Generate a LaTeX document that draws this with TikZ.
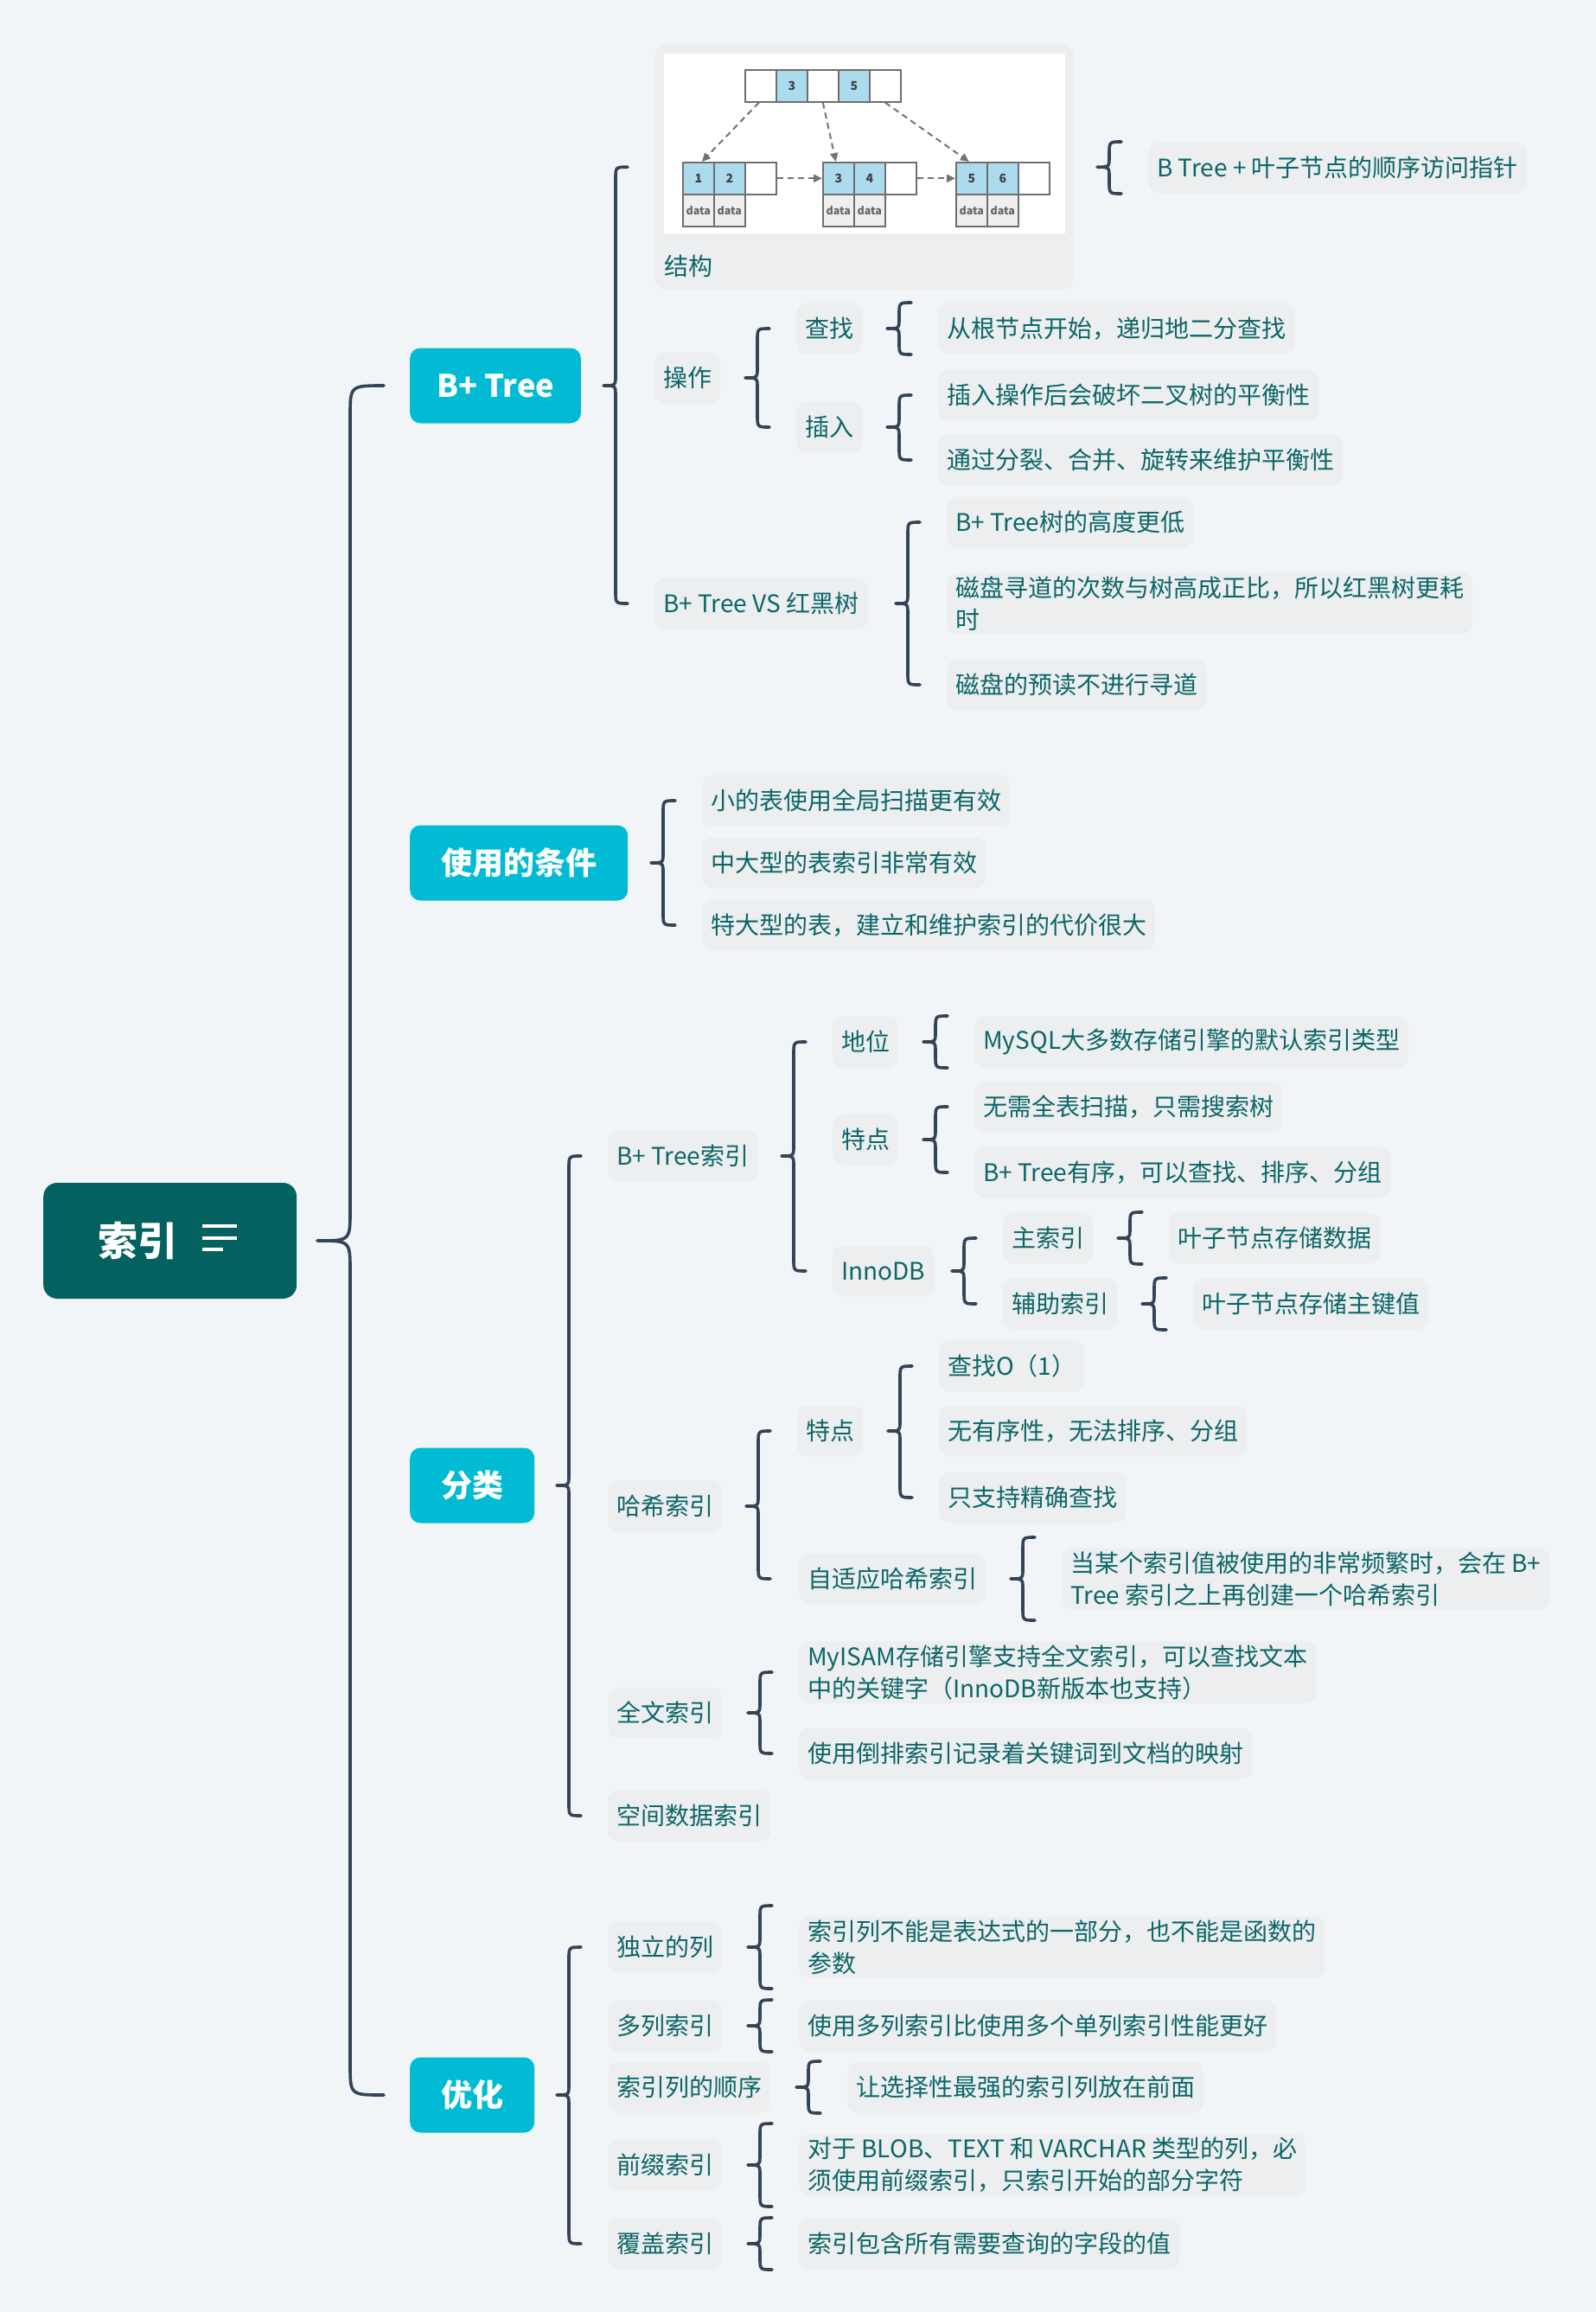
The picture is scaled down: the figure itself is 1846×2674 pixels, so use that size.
\documentclass[tikz,border=0pt]{standalone}
\usepackage{fontspec}
\setmainfont{Noto Sans CJK SC}
\usetikzlibrary{arrows.meta,calc}
\definecolor{bg}{HTML}{F2F5F8}
\definecolor{rootc}{HTML}{03625F}
\definecolor{cyanc}{HTML}{00BBD3}
\definecolor{itemfill}{HTML}{ECEEF0}
\definecolor{tealtext}{HTML}{0D6667}
\definecolor{linec}{HTML}{354358}
\definecolor{cellblue}{HTML}{ADDBEE}
\definecolor{cellgray}{HTML}{EFEFEF}
\definecolor{cellborder}{HTML}{6E6E6E}
\newcommand{\brc}[4][0]{%
  \draw[brline] let \p1=(#3.west), \p2=(#4.west), \p3=(#2.east) in
  (\x1-31pt,\y1+#1pt) .. controls (\x1-45pt,\y1+#1pt) .. (\x1-45pt,\y1+#1pt-14pt)
  -- (\x1-45pt,\y3+12pt) .. controls (\x1-45pt,\y3) .. (\x1-59pt,\y3)
  .. controls (\x1-45pt,\y3) .. (\x1-45pt,\y3-12pt)
  -- (\x1-45pt,\y2-#1pt+14pt) .. controls (\x1-45pt,\y2-#1pt) .. (\x1-31pt,\y2-#1pt);}
\tikzset{
  brline/.style={draw=linec, line width=3.6pt, line cap=round, line join=round},
  item/.style={fill=itemfill, rounded corners=12pt, text=tealtext, font=\fontsize{28}{37}\selectfont,
    minimum height=59pt, inner xsep=10pt, inner ysep=4pt, anchor=west, align=left},
  lvlone/.style={fill=cyanc, rounded corners=12pt, text=white, font=\fontsize{36}{40}\selectfont\bfseries,
    minimum height=87pt, inner xsep=36pt, anchor=west},
  rootbox/.style={fill=rootc, rounded corners=16pt, text=white, font=\fontsize{46}{50}\selectfont\bfseries,
    minimum height=134pt, text width=167pt, inner xsep=63pt, align=left, anchor=west},
  cell/.style={draw=cellborder, line width=1.6pt, minimum width=36pt, minimum height=37pt, inner sep=0pt,
    anchor=north west, fill=white, font=\fontsize{14}{14}\selectfont\bfseries, text=black!75},
  bcell/.style={cell, fill=cellblue},
  dcell/.style={cell, fill=cellgray, font=\fontsize{12.5}{12.5}\selectfont\bfseries, text=black!60},
  dasharrow/.style={draw=black!55, line width=2pt, dash pattern=on 7pt off 5pt, -{Triangle[length=10pt,width=9pt]}}
}
\begin{document}
\begin{tikzpicture}[x=1pt,y=-1pt]
\fill[bg] (0,0) rectangle (1846,2674);
\useasboundingbox (0,0) rectangle (1846,2674);

% root
\node[rootbox] (root) at (50,1435) {索引};
\draw[white, line width=4pt] (234,1418) -- (274,1418) (234,1432) -- (274,1432) (234,1445) -- (258,1445);

% level one
\node[lvlone, inner xsep=31pt] (bt) at (474,446) {B+ Tree};
\node[lvlone] (cond) at (474,998) {使用的条件};
\node[lvlone] (cls) at (474,1718) {分类};
\node[lvlone] (opt) at (474,2423) {优化};

% root brace
\draw[brline] let \p1=(bt.west), \p2=(opt.west), \p3=(root.east) in
  (\x1-30pt,\y1) .. controls (\x1-69pt,\y1) .. (\x1-69pt,\y1-35pt)
  -- (\x1-69pt,\y3+35pt) .. controls (\x1-69pt,\y3) .. (\x1-107pt,\y3)
  .. controls (\x1-69pt,\y3) .. (\x1-69pt,\y3-35pt)
  -- (\x1-69pt,\y2+35pt) .. controls (\x1-69pt,\y2) .. (\x1-30pt,\y2);

% ---------- B+ Tree ----------
\node[fill=itemfill, rounded corners=14pt, minimum width=485pt, minimum height=284pt, anchor=north west, inner sep=0pt] (struct) at (757,51) {};
\fill[white] (768,62) rectangle (1232,270);
\node[anchor=west, text=tealtext, font=\fontsize{28}{37}\selectfont, inner sep=0pt] (structlabel) at (768,308) {结构};
% b-tree picture
\node[cell] (r0) at (861,80) {};
\node[bcell] (r1) at (897,80) {3};
\node[cell] (r2) at (933,80) {};
\node[bcell] (r3) at (969,80) {5};
\node[cell] (r4) at (1005,80) {};
\node[bcell] (a0) at (789,187) {1};
\node[bcell] (a1) at (825,187) {2};
\node[cell] (a2) at (861,187) {};
\node[dcell] (ad0) at (789,224) {data};
\node[dcell] (ad1) at (825,224) {data};
\node[bcell] (b0) at (951,187) {3};
\node[bcell] (b1) at (987,187) {4};
\node[cell] (b2) at (1023,187) {};
\node[dcell] (bd0) at (951,224) {data};
\node[dcell] (bd1) at (987,224) {data};
\node[bcell] (c0) at (1105,187) {5};
\node[bcell] (c1) at (1141,187) {6};
\node[cell] (c2) at (1177,187) {};
\node[dcell] (cd0) at (1105,224) {data};
\node[dcell] (cd1) at (1141,224) {data};
\draw[dasharrow] ([xshift=-2pt]r0.south) -- ([xshift=4pt]a0.north);
\draw[dasharrow] (r2.south) -- ([xshift=-3pt]b0.north);
\draw[dasharrow] (r4.south) -- ([xshift=-3pt]c0.north);
\draw[dasharrow] (a2.east) -- (b0.west);
\draw[dasharrow] (b2.east) -- (c0.west);

\node[item] (bptr) at (1328,194) {B Tree + 叶子节点的顺序访问指针};
\brc[30]{struct}{bptr}{bptr}

\node[item] (op) at (757,437) {操作};
\node[item] (find) at (921,380) {查找};
\node[item] (findd) at (1085,380) {从根节点开始，递归地二分查找};
\node[item] (ins) at (921,494) {插入};
\node[item] (insa) at (1085,457) {插入操作后会破坏二叉树的平衡性};
\node[item] (insb) at (1085,532) {通过分裂、合并、旋转来维护平衡性};
\node[item] (vs) at (757,698) {B+ Tree VS 红黑树};
\node[item] (vsa) at (1095,604) {B+ Tree树的高度更低};
\node[item] (vsb) at (1095,698) {磁盘寻道的次数与树高成正比，所以红黑树更耗\\时};
\node[item] (vsc) at (1095,792) {磁盘的预读不进行寻道};

\brc{bt}{struct}{vs}
\brc{op}{find}{ins}
\brc[30]{find}{findd}{findd}
\brc{ins}{insa}{insb}
\brc{vs}{vsa}{vsc}

% ---------- 使用的条件 ----------
\node[item] (ca) at (812,926) {小的表使用全局扫描更有效};
\node[item] (cb) at (812,998) {中大型的表索引非常有效};
\node[item] (cc) at (812,1070) {特大型的表，建立和维护索引的代价很大};
\brc{cond}{ca}{cc}

% ---------- 分类 ----------
\node[item] (bti) at (703,1337) {B+ Tree索引};
\node[item] (pos) at (963,1205) {地位};
\node[item] (posa) at (1127,1205) {MySQL大多数存储引擎的默认索引类型};
\node[item] (feat) at (963,1318) {特点};
\node[item] (feata) at (1127,1280) {无需全表扫描，只需搜索树};
\node[item] (featb) at (1127,1356) {B+ Tree有序，可以查找、排序、分组};
\node[item] (inno) at (963,1470) {InnoDB};
\node[item] (prim) at (1160,1432) {主索引};
\node[item] (prima) at (1352,1432) {叶子节点存储数据};
\node[item] (sec) at (1160,1508) {辅助索引};
\node[item] (seca) at (1380,1508) {叶子节点存储主键值};

\node[item] (hash) at (703,1742) {哈希索引};
\node[item] (hfeat) at (922,1655) {特点};
\node[item] (hfa) at (1086,1580) {查找O（1）};
\node[item] (hfb) at (1086,1655) {无有序性，无法排序、分组};
\node[item] (hfc) at (1086,1732) {只支持精确查找};
\node[item] (ahi) at (924,1826) {自适应哈希索引};
\node[item] (ahia) at (1228,1826) {当某个索引值被使用的非常频繁时，会在 B+\\Tree 索引之上再创建一个哈希索引};

\node[item] (ft) at (703,1981) {全文索引};
\node[item] (fta) at (924,1934) {MyISAM存储引擎支持全文索引，可以查找文本\\中的关键字（InnoDB新版本也支持）};
\node[item] (ftb) at (924,2028) {使用倒排索引记录着关键词到文档的映射};
\node[item] (sp) at (703,2100) {空间数据索引};

\brc{cls}{bti}{sp}
\brc{bti}{pos}{inno}
\brc[30]{pos}{posa}{posa}
\brc{feat}{feata}{featb}
\brc{inno}{prim}{sec}
\brc[30]{prim}{prima}{prima}
\brc[30]{sec}{seca}{seca}
\brc{hash}{hfeat}{ahi}
\brc{hfeat}{hfa}{hfc}
\brc[48]{ahi}{ahia}{ahia}
\brc{ft}{fta}{ftb}

% ---------- 优化 ----------
\node[item] (oa) at (703,2252) {独立的列};
\node[item] (oaa) at (924,2252) {索引列不能是表达式的一部分，也不能是函数的\\参数};
\node[item] (ob) at (703,2343) {多列索引};
\node[item] (oba) at (924,2343) {使用多列索引比使用多个单列索引性能更好};
\node[item] (oc) at (703,2414) {索引列的顺序};
\node[item] (oca) at (980,2414) {让选择性最强的索引列放在前面};
\node[item] (od) at (703,2504) {前缀索引};
\node[item] (oda) at (924,2504) {对于 BLOB、TEXT 和 VARCHAR 类型的列，必\\须使用前缀索引，只索引开始的部分字符};
\node[item] (oe) at (703,2595) {覆盖索引};
\node[item] (oea) at (924,2595) {索引包含所有需要查询的字段的值};

\brc{opt}{oa}{oe}
\brc[48]{oa}{oaa}{oaa}
\brc[30]{ob}{oba}{oba}
\brc[30]{oc}{oca}{oca}
\brc[48]{od}{oda}{oda}
\brc[30]{oe}{oea}{oea}
\end{tikzpicture}
\end{document}
